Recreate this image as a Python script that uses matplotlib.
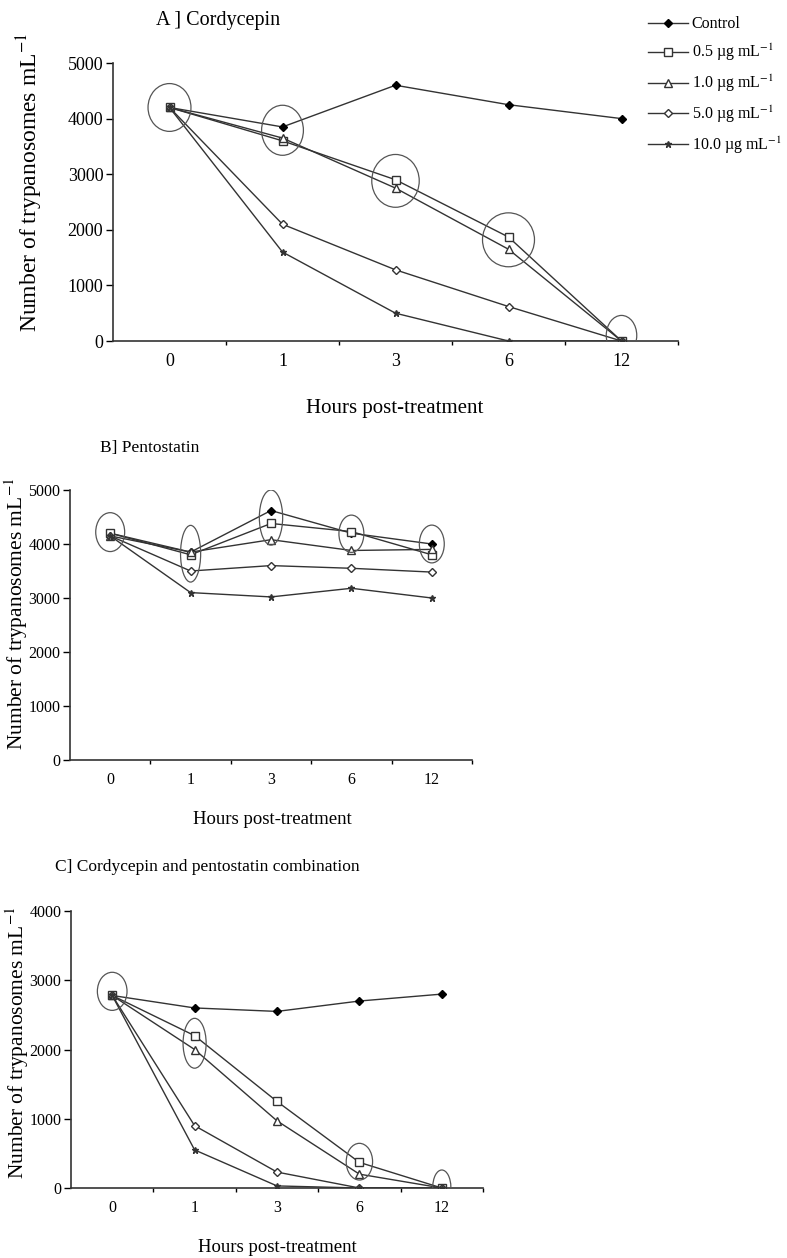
import numpy as np
import matplotlib
matplotlib.use("Agg")
import matplotlib.pyplot as plt
from matplotlib.patches import Ellipse

plt.rcParams['font.family'] = ['Liberation Serif', 'DejaVu Serif']
plt.rcParams['mathtext.fontset'] = 'stix'

# categories (hours post-treatment)
hours = ['0', '1', '3', '6', '12']
series_names = ['Control', '0.5 µg mL$^{-1}$', '1.0 µg mL$^{-1}$',
                '5.0 µg mL$^{-1}$', '10.0 µg mL$^{-1}$']

# A] Cordycepin
a_control = [4200, 3850, 4600, 4250, 4000]
a_05 = [4200, 3600, 2900, 1870, 0]
a_10 = [4200, 3650, 2750, 1650, 0]
a_50 = [4200, 2100, 1280, 620, 0]
a_100 = [4200, 1600, 500, 0, 0]

# B] Pentostatin
b_control = [4200, 3850, 4620, 4200, 4000]
b_05 = [4200, 3800, 4380, 4230, 3800]
b_10 = [4150, 3850, 4080, 3880, 3900]
b_50 = [4150, 3500, 3600, 3550, 3480]
b_100 = [4150, 3100, 3020, 3180, 3000]

# C] Combination
c_control = [2780, 2600, 2550, 2700, 2800]
c_05 = [2780, 2200, 1250, 370, 0]
c_10 = [2780, 2000, 970, 200, 0]
c_50 = [2780, 900, 230, 0, 0]
c_100 = [2780, 550, 30, 0, 0]

# highlighted points (category index, value)
a_circ_x = [0, 1, 2, 3, 4]
a_circ_y = [4200, 3790, 2880, 1820, 100]
b_circ_x = [0, 1, 2, 3, 4]
b_circ_y = [4220, 3820, 4490, 4190, 4000]
c_circ_x = [0, 1, 3, 4]
c_circ_y = [2840, 2090, 380, 10]

styles = [
    dict(marker='D', ms=4.5, mfc='black', mec='black'),
    dict(marker='s', ms=5.5, mfc='white', mec='#333333'),
    dict(marker='^', ms=5.5, mfc='white', mec='#333333'),
    dict(marker='D', ms=4, mfc='white', mec='#333333'),
    dict(marker='*', ms=4.5, mfc='#333333', mec='#333333'),
]

W, H = 787, 1258
fig = plt.figure(figsize=(W / 100, H / 100), dpi=100)


def px_axes(l, r, t, b):
    return fig.add_axes([l / W, 1 - b / H, (r - l) / W, (b - t) / H])


def draw_panel(ax, data, ymax, circ_x, circ_y, circ_w, circ_h, tsize):
    x = np.arange(len(hours))
    lines = []
    for vals, st, name in zip(data, styles, series_names):
        ln, = ax.plot(x, vals, color='#333333', lw=1.0, label=name, zorder=3, **st)
        lines.append(ln)
    for cx, cy, cw, ch in zip(circ_x, circ_y, circ_w, circ_h):
        ax.add_patch(Ellipse((cx, cy), cw, ch, fill=False, ec='#555555', lw=0.9, zorder=4))
    ax.set_xlim(-0.5, len(hours) - 0.5)
    ax.set_ylim(0, ymax)
    ax.set_yticks(np.arange(0, ymax + 1, 1000))
    ax.set_xticks(np.arange(0.5, len(hours), 1.0))
    ax.set_xticklabels([])
    ax.set_xticks(x, minor=True)
    ax.set_xticklabels(hours, minor=True)
    ax.tick_params(axis='x', which='minor', length=0, pad=9, labelsize=tsize)
    ax.tick_params(axis='x', which='major', length=3, direction='out', width=1)
    ax.tick_params(axis='y', length=5, width=1, labelsize=tsize, pad=2)
    for s in ['top', 'right']:
        ax.spines[s].set_visible(False)
    for s in ['left', 'bottom']:
        ax.spines[s].set_linewidth(1.2)
        ax.spines[s].set_color('#333333')
    return lines


ylab = 'Number of trypanosomes mL$^{-1}$'

# panel A
axA = px_axes(113, 678, 63, 341)
lines = draw_panel(axA, [a_control, a_05, a_10, a_50, a_100], 5000,
                   a_circ_x, a_circ_y,
                   [0.38, 0.37, 0.42, 0.46, 0.27], [860, 900, 950, 970, 720], 13)
fig.text(218 / W, 1 - 20 / H, 'A ] Cordycepin', ha='center', va='center', fontsize=14.5)
fig.text(30 / W, 1 - 182 / H, ylab, rotation=90, ha='center', va='center', fontsize=17)
fig.text(395 / W, 1 - 408 / H, 'Hours post-treatment', ha='center', va='center', fontsize=15)
fig.legend(handles=lines, loc='upper left', bbox_to_anchor=(642 / W, 1 - 10 / H),
           frameon=False, fontsize=11.5, handlelength=2.5, labelspacing=0.6,
           handletextpad=0.2, borderaxespad=0)

# panel B
axB = px_axes(70, 472, 490, 760)
draw_panel(axB, [b_control, b_05, b_10, b_50, b_100], 5000,
           b_circ_x, b_circ_y,
           [0.36, 0.25, 0.29, 0.31, 0.31], [720, 1050, 1020, 690, 700], 11.5)
fig.text(150 / W, 1 - 448 / H, 'B] Pentostatin', ha='center', va='center', fontsize=12.5)
fig.text(16 / W, 1 - 614 / H, ylab, rotation=90, ha='center', va='center', fontsize=15.5)
fig.text(272 / W, 1 - 820 / H, 'Hours post-treatment', ha='center', va='center', fontsize=13.5)

# panel C
axC = px_axes(71, 483, 911, 1188)
draw_panel(axC, [c_control, c_05, c_10, c_50, c_100], 4000,
           c_circ_x, c_circ_y,
           [0.36, 0.28, 0.32, 0.22], [550, 720, 530, 500], 11.5)
fig.text(207 / W, 1 - 867 / H, 'C] Cordycepin and pentostatin combination',
         ha='center', va='center', fontsize=12.5)
fig.text(17 / W, 1 - 1043 / H, ylab, rotation=90, ha='center', va='center', fontsize=15.5)
fig.text(277 / W, 1 - 1248 / H, 'Hours post-treatment', ha='center', va='center', fontsize=13.5)

fig.savefig('out.png', dpi=100)
